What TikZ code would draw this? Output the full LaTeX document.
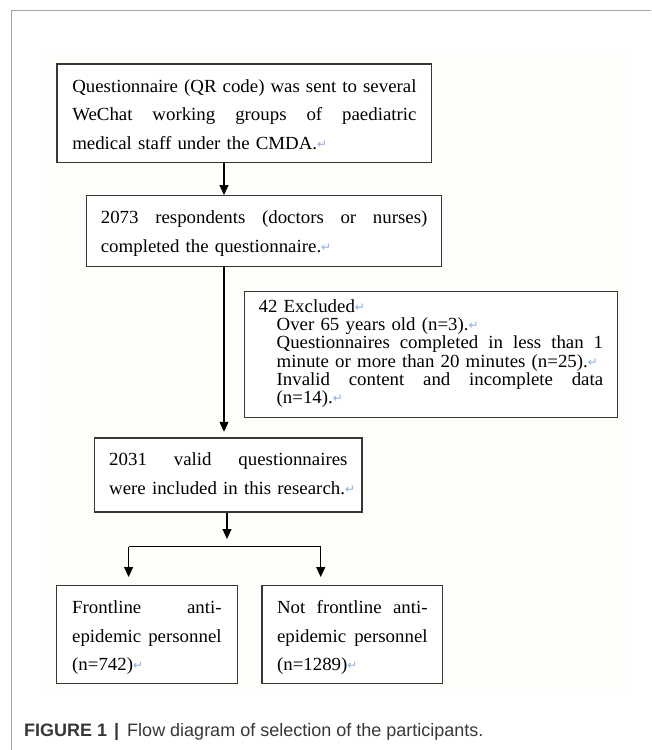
\documentclass[tikz,border=0pt]{standalone}
\usepackage{fontspec}
\setmainfont{Liberation Serif}[FakeStretch=1.02]
\newfontfamily\capfont{Liberation Sans}
\newfontfamily\symfont{DejaVu Sans}
\usepackage{tikz}
\usetikzlibrary{positioning}
\usetikzlibrary{arrows.meta}
\definecolor{retblue}{RGB}{140,175,225}
\definecolor{framegray}{RGB}{165,165,165}
\definecolor{capgray}{RGB}{55,55,55}
\definecolor{boxline}{RGB}{55,55,55}
\definecolor{paper}{RGB}{253,253,249}
\newcommand{\ret}{{\symfont\fontsize{12}{12}\selectfont\color{retblue}\raisebox{1pt}{↵}}}
\newlength{\exind}
\setlength{\exind}{18pt}
\newcommand{\jl}[1]{\makebox[\hsize][s]{\spaceskip=.25em plus 1fil\relax #1}}
\newcommand{\jli}[1]{\hspace*{\exind}\makebox[\dimexpr\hsize-\exind\relax][s]{\spaceskip=.25em plus 1fil\relax #1}}
\newcommand{\il}[1]{\hspace*{\exind}\mbox{#1}}
\tikzset{
    flow diagram/.style={
            x=1pt,y=-1pt,
            box/.style={draw=boxline,line width=1.3pt,fill=white,anchor=north west,
                inner ysep=0pt,font=\fontsize{18.5}{28.4}\selectfont},
            arrow/.style={-{Triangle[length=10pt,width=9pt]},line width=1.2pt},
            joint/.style={line width=1.2pt}
        }
    }

\begin{document}
\begin{tikzpicture}[flow diagram]
    \useasboundingbox (0,0) rectangle (651,750);
    \fill[paper] (41,55) rectangle (626,690);
    \draw[framegray,line width=1pt] (11,750) -- (11,10) -- (651,10);
    % boxes
    \node[box,text width=344.3pt,inner xsep=15.2pt,text height=28.4pt,text depth=70pt] (sent) at (56.4,63.3)
        {\jl{Questionnaire (QR code) was sent to several}\\ \jl{WeChat working groups of paediatric}\\ \mbox{medical staff under the CMDA.\ret}};
    \node[box,text width=326.6pt,inner xsep=14.2pt,text height=28pt,text depth=42.7pt] (resp) at (86,195)
        {\jl{2073 respondents (doctors or nurses)}\\ \mbox{completed the questionnaire.\ret}};
    \node[box,text width=344.5pt,inner xsep=14pt,text height=20.7pt,text depth=105.3pt,
        font=\fontsize{18.5}{18.3}\selectfont] (excl) at (244,291)
        {\mbox{42 Excluded\ret}\\
         \il{Over 65 years old (n=3).\ret}\\
         \jli{Questionnaires completed in less than 1}\\
         \il{minute or more than 20 minutes (n=25).\ret}\\
         \jli{Invalid content and incomplete data}\\
         \il{(n=14).\ret}};
    \node[box,text width=238.3pt,inner xsep=14.55pt,text height=28pt,text depth=46pt] (valid) at (94,437.3)
        {\jl{2031 valid questionnaires}\\ \mbox{were included in this research.\ret}};
    \node[box,text width=149.5pt,inner xsep=15.5pt,text height=28pt,text depth=70pt] (front) at (56,585)
        {\jl{Frontline anti-}\\ \jl{epidemic personnel}\\ \mbox{(n=742)\ret}};
    \node[box,text width=150.6pt,inner xsep=15pt,text height=28pt,text depth=70pt] (notfront) at (261.4,585)
        {\jl{Not frontline anti-}\\ \jl{epidemic personnel}\\ \mbox{(n=1289)\ret}};
    % connectors
    \coordinate (trunk) at (224,0);
    \coordinate (split) at (227,546.5);
    \coordinate (splitl) at (128.6,546.5);
    \coordinate (splitr) at (320.7,546.5);
    \draw[arrow] (sent.south -| trunk) -- (resp.north -| trunk);
    \draw[arrow,shorten >=5.5pt] (resp.south -| trunk) -- (valid.north -| trunk);
    \draw[arrow,shorten >=7.5pt] (valid.south -| split) -- (split);
    \draw[joint] (splitl) -- (splitr);
    \draw[arrow,shorten >=8pt] (splitl) -- (splitl |- front.north);
    \draw[arrow,shorten >=8pt] (splitr) -- (splitr |- notfront.north);
    % caption
    \node[anchor=base west,inner sep=0pt,text=capgray,font=\capfont\fontsize{18}{18}\selectfont] (caption) at (24,736)
        {{\bfseries FIGURE 1}\hspace{7pt}{\bfseries|}\hspace{8pt}Flow diagram of selection of the participants.};
\end{tikzpicture}
\end{document}
